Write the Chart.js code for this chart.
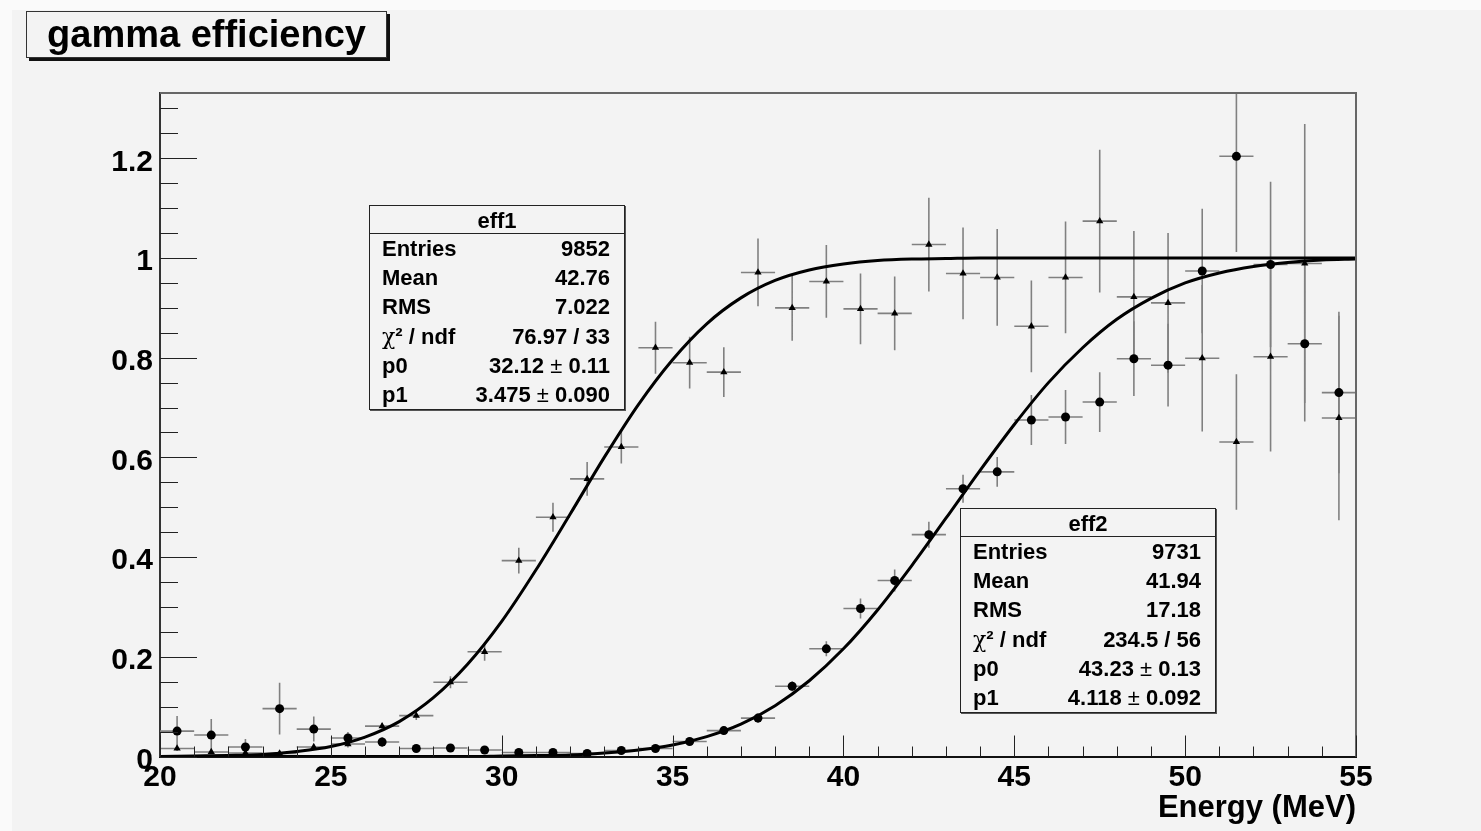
<!DOCTYPE html>
<html>
<head>
<meta charset="utf-8">
<title>gamma efficiency</title>
<script src="https://cdn.jsdelivr.net/npm/chart.js@4"></script>
<style>
  body { margin: 0; background: #fafafa; }
  #wrap { position: relative; width: 1481px; height: 831px; overflow: hidden; }
  #bg { position: absolute; left: 12px; top: 10px; right: 0; bottom: 0; background: #f3f3f3; }
  canvas { position: absolute; left: 0; top: 0; }
  .title {
    position: absolute; left: 26px; top: 11px; width: 359px; height: 45px;
    border: 1px solid #333; box-shadow: 3px 3px 0 #111; background: #f3f3f3;
    font: bold 38px "Liberation Sans", Arial, sans-serif; text-align: center; line-height: 44px;
  }
  .stats {
    position: absolute; width: 254px; border: 1px solid #222; box-shadow: 1px 1px 0 #555;
    background: #f3f3f3; font: bold 22px "Liberation Sans", Arial, sans-serif; color: #000;
  }
  .stats .hd { height: 27px; line-height: 29px; text-align: center; border-bottom: 1px solid #222; }
  .stats .row { height: 29.2px; line-height: 30px; display: flex; justify-content: space-between; padding: 0 14px 0 12px; }
  .sym { font-family: "DejaVu Serif", serif; font-weight: normal; }
  .pm { font-weight: normal; }
</style>
</head>
<body>
<div id="wrap">
  <div id="bg"></div>
  <canvas id="effChart" width="1481" height="831"></canvas>
  <div class="title">gamma efficiency</div>
  <div class="stats" style="left:369px; top:205px;">
    <div class="hd">eff1</div>
    <div class="row"><span>Entries</span><span>9852</span></div>
    <div class="row"><span>Mean</span><span>42.76</span></div>
    <div class="row"><span>RMS</span><span>7.022</span></div>
    <div class="row"><span><span class="sym">χ</span>² / ndf</span><span>76.97 / 33</span></div>
    <div class="row"><span>p0</span><span>32.12 <span class="pm">±</span> 0.11</span></div>
    <div class="row"><span>p1</span><span>3.475 <span class="pm">±</span> 0.090</span></div>
  </div>
  <div class="stats" style="left:960px; top:508px;">
    <div class="hd">eff2</div>
    <div class="row"><span>Entries</span><span>9731</span></div>
    <div class="row"><span>Mean</span><span>41.94</span></div>
    <div class="row"><span>RMS</span><span>17.18</span></div>
    <div class="row"><span><span class="sym">χ</span>² / ndf</span><span>234.5 / 56</span></div>
    <div class="row"><span>p0</span><span>43.23 <span class="pm">±</span> 0.13</span></div>
    <div class="row"><span>p1</span><span>4.118 <span class="pm">±</span> 0.092</span></div>
  </div>
</div>
<script>
// bin centres (1 MeV bins)
const binCenters = [20.5, 21.5, 22.5, 23.5, 24.5, 25.5, 26.5, 27.5, 28.5, 29.5,
                    30.5, 31.5, 32.5, 33.5, 34.5, 35.5, 36.5, 37.5, 38.5, 39.5,
                    40.5, 41.5, 42.5, 43.5, 44.5, 45.5, 46.5, 47.5, 48.5, 49.5,
                    50.5, 51.5, 52.5, 53.5, 54.5];

// eff1 (triangles)
const eff1Values = [0.016, 0.009, 0.007, 0.006, 0.019, 0.025, 0.061, 0.082, 0.149, 0.210,
                    0.393, 0.480, 0.557, 0.621, 0.820, 0.790, 0.771, 0.971, 0.900, 0.953,
                    0.898, 0.889, 1.027, 0.969, 0.961, 0.863, 0.961, 1.074, 0.922, 0.910,
                    0.799, 0.631, 0.802, 0.989, 0.679];
const eff1Errors = [0.005, 0.004, 0.004, 0.004, 0.005, 0.007, 0.006, 0.009, 0.012, 0.018,
                    0.026, 0.029, 0.034, 0.033, 0.052, 0.052, 0.050, 0.068, 0.066, 0.073,
                    0.071, 0.074, 0.094, 0.092, 0.097, 0.092, 0.112, 0.143, 0.132, 0.140,
                    0.147, 0.136, 0.190, 0.280, 0.205];

// eff2 (circles)
const eff2Values = [0.051, 0.043, 0.019, 0.096, 0.055, 0.037, 0.029, 0.016, 0.017, 0.013,
                    0.008, 0.008, 0.006, 0.012, 0.016, 0.030, 0.052, 0.077, 0.141, 0.216,
                    0.297, 0.353, 0.445, 0.537, 0.571, 0.675, 0.681, 0.711, 0.798, 0.785,
                    0.974, 1.204, 0.987, 0.828, 0.730];
const eff2Errors = [0.030, 0.032, 0.016, 0.052, 0.025, 0.012, 0.010, 0.006, 0.006, 0.005,
                    0.004, 0.004, 0.003, 0.004, 0.005, 0.006, 0.008, 0.010, 0.010, 0.015,
                    0.020, 0.022, 0.026, 0.028, 0.030, 0.050, 0.054, 0.060, 0.075, 0.083,
                    0.125, 0.192, 0.166, 0.156, 0.162];

// fitted curves
const fitEnergies = [20, 21, 22, 23, 24, 25, 26, 27, 28, 29, 30, 31, 32, 33, 34, 35, 36, 37,
                     38, 39, 40, 41, 42, 43, 44, 45, 46, 47, 48, 49, 50, 51, 52, 53, 54, 55];
const fit1Values = [0.000, 0.001, 0.002, 0.004, 0.010, 0.020, 0.039, 0.070, 0.118, 0.185,
                    0.271, 0.374, 0.486, 0.600, 0.706, 0.796, 0.868, 0.920, 0.955, 0.976,
                    0.988, 0.995, 0.998, 0.999, 1.000, 1.000, 1.000, 1.000, 1.000, 1.000,
                    1.000, 1.000, 1.000, 1.000, 1.000, 1.000];
const fit2Values = [0.000, 0.000, 0.000, 0.000, 0.000, 0.000, 0.000, 0.000, 0.000, 0.000,
                    0.001, 0.002, 0.003, 0.007, 0.013, 0.023, 0.040, 0.065, 0.102, 0.152,
                    0.216, 0.294, 0.383, 0.478, 0.574, 0.666, 0.750, 0.820, 0.877, 0.919,
                    0.950, 0.970, 0.983, 0.991, 0.996, 0.998];

const fontFamily = '"Liberation Sans", Arial, sans-serif';

function points(xs, ys) {
    return xs.map((x, i) => ({ x: x, y: ys[i] }));
}

// horizontal bin-width bar + vertical error bar for each bin, broken with nulls
function errorBars(values, errors) {
    const pts = [];
    binCenters.forEach((x, i) => {
        const y = values[i], e = errors[i];
        pts.push({ x: x - 0.5, y: y }, { x: x + 0.5, y: y }, { x: x, y: null });
        pts.push({ x: x, y: y - e }, { x: x, y: y + e }, { x: x, y: null });
    });
    return pts;
}

// ROOT-like inward ticks and frame
const rootFrame = {
    id: 'rootFrame',
    afterDraw(chart) {
        const { ctx, chartArea: a, scales: { x, y } } = chart;
        ctx.save();
        ctx.strokeStyle = '#666';
        ctx.lineWidth = 2;
        ctx.beginPath();
        ctx.moveTo(a.left, a.top);
        ctx.lineTo(a.right, a.top);
        ctx.lineTo(a.right, a.bottom);
        ctx.stroke();

        ctx.strokeStyle = '#222';
        ctx.lineWidth = 1;
        ctx.beginPath();
        for (let k = 0; k * 0.05 <= y.max + 1e-9; k++) {
            const py = Math.round(y.getPixelForValue(k * 0.05)) + 0.5;
            const len = (k % 4 === 0) ? 37 : 18;
            ctx.moveTo(a.left, py);
            ctx.lineTo(a.left + len, py);
        }
        for (let v = x.min; v <= x.max; v++) {
            const px = Math.round(x.getPixelForValue(v)) + 0.5;
            const len = (v % 5 === 0) ? 21 : 10;
            ctx.moveTo(px, a.bottom);
            ctx.lineTo(px, a.bottom - len);
        }
        ctx.stroke();
        ctx.restore();
    }
};

const ctx = document.getElementById('effChart').getContext('2d');
new Chart(ctx, {
    type: 'scatter',
    data: {
        datasets: [
            {
                label: 'eff1 errors',
                data: errorBars(eff1Values, eff1Errors),
                showLine: true,
                borderColor: '#808080',
                borderWidth: 1.6,
                pointRadius: 0,
                spanGaps: false,
                order: 3
            },
            {
                label: 'eff2 errors',
                data: errorBars(eff2Values, eff2Errors),
                showLine: true,
                borderColor: '#808080',
                borderWidth: 1.6,
                pointRadius: 0,
                spanGaps: false,
                order: 3
            },
            {
                label: 'eff1 fit',
                data: points(fitEnergies, fit1Values),
                showLine: true,
                borderColor: '#000',
                borderWidth: 3,
                pointRadius: 0,
                cubicInterpolationMode: 'monotone',
                order: 2
            },
            {
                label: 'eff2 fit',
                data: points(fitEnergies, fit2Values),
                showLine: true,
                borderColor: '#000',
                borderWidth: 3,
                pointRadius: 0,
                cubicInterpolationMode: 'monotone',
                order: 2
            },
            {
                label: 'eff1',
                data: points(binCenters, eff1Values),
                pointStyle: 'triangle',
                pointRadius: 4.2,
                backgroundColor: '#000',
                borderColor: '#000',
                borderWidth: 0,
                order: 1
            },
            {
                label: 'eff2',
                data: points(binCenters, eff2Values),
                pointStyle: 'circle',
                pointRadius: 4.5,
                backgroundColor: '#000',
                borderColor: '#000',
                borderWidth: 0,
                order: 1
            }
        ]
    },
    options: {
        responsive: false,
        animation: false,
        layout: { padding: { left: 0, right: 125, top: 93, bottom: 0 } },
        plugins: {
            legend: { display: false },
            tooltip: { enabled: false }
        },
        scales: {
            x: {
                type: 'linear',
                min: 20,
                max: 55,
                grid: { display: false, drawTicks: false },
                border: { display: true, color: '#111', width: 2 },
                ticks: {
                    stepSize: 5,
                    color: '#000',
                    padding: 3,
                    font: { family: fontFamily, size: 30, weight: 'bold' }
                },
                title: {
                    display: true,
                    text: 'Energy (MeV)',
                    align: 'end',
                    color: '#000',
                    padding: { top: 0, bottom: 4 },
                    font: { family: fontFamily, size: 31, weight: 'bold' }
                },
                afterFit(scale) { scale.height = 74.5; }
            },
            y: {
                type: 'linear',
                min: 0,
                max: 1.331,
                grid: { display: false, drawTicks: false },
                border: { display: true, color: '#333', width: 2 },
                ticks: {
                    stepSize: 0.2,
                    includeBounds: false,
                    color: '#000',
                    padding: 7,
                    labelOffset: 4,
                    font: { family: fontFamily, size: 30, weight: 'bold' },
                    callback: v => String(+v.toFixed(1))
                },
                afterFit(scale) { scale.width = 160; }
            }
        }
    },
    plugins: [rootFrame]
});
</script>
</body>
</html>
